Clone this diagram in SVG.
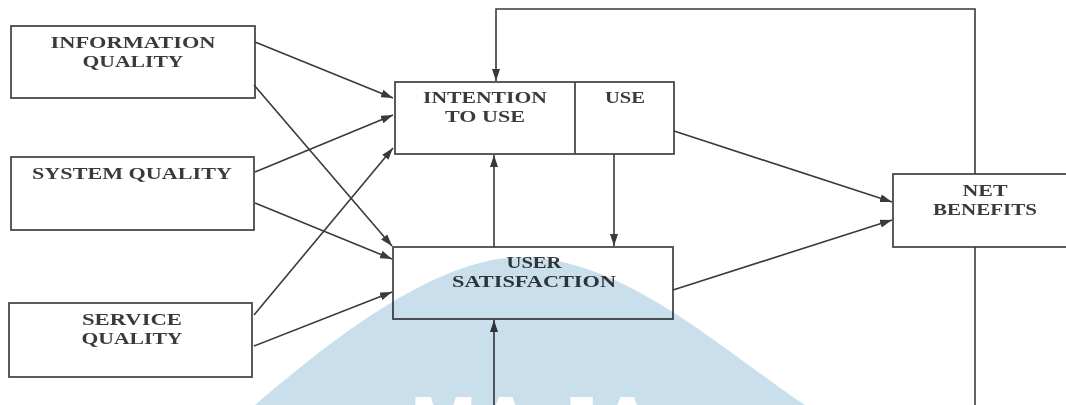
<svg xmlns="http://www.w3.org/2000/svg" width="1066" height="405" viewBox="0 0 1066 405">
  <style>
    .box { fill: none; stroke: #4a4a4a; stroke-width: 1.8; }
    .lbl { font-family: "Liberation Serif", "Times New Roman", serif; font-weight: bold; font-size: 17px; fill: #3a3a3a; text-anchor: middle; }
    .wire { fill: none; stroke: #3a3a3a; stroke-width: 1.6; }
    .arr { marker-end: url(#head); }
    .mark { font-family: "Liberation Sans", Arial, sans-serif; font-weight: bold; font-size: 80px; fill: #000; }
  </style>
  <defs>
    <marker id="head" viewBox="0 0 12 8" refX="12" refY="4" markerWidth="12" markerHeight="8" markerUnits="userSpaceOnUse" orient="auto">
      <path d="M0,0 L12,4 L0,8 Z" fill="#3a3a3a"/>
    </marker>
    <mask id="cut">
      <rect x="0" y="0" width="1066" height="405" fill="#fff"/>
      <text class="mark" x="410" y="452">MA JA</text>
    </mask>
  </defs>

  <rect x="0" y="0" width="1066" height="405" fill="#fff"/>

  <!-- nodes -->
  <g id="information-quality">
    <rect class="box" x="11" y="26" width="244" height="72"/>
    <text class="lbl" x="133" y="48" textLength="165" lengthAdjust="spacingAndGlyphs">INFORMATION</text>
    <text class="lbl" x="133" y="67" textLength="101" lengthAdjust="spacingAndGlyphs">QUALITY</text>
  </g>
  <g id="system-quality">
    <rect class="box" x="11" y="157" width="243" height="73"/>
    <text class="lbl" x="132" y="179" textLength="200" lengthAdjust="spacingAndGlyphs">SYSTEM QUALITY</text>
  </g>
  <g id="service-quality">
    <rect class="box" x="9" y="303" width="243" height="74"/>
    <text class="lbl" x="132" y="325" textLength="100" lengthAdjust="spacingAndGlyphs">SERVICE</text>
    <text class="lbl" x="132" y="344" textLength="101" lengthAdjust="spacingAndGlyphs">QUALITY</text>
  </g>
  <g id="intention-use">
    <rect class="box" x="395" y="82" width="279" height="72"/>
    <line class="box" x1="575" y1="82" x2="575" y2="154"/>
    <text class="lbl" x="485" y="103" textLength="124" lengthAdjust="spacingAndGlyphs">INTENTION</text>
    <text class="lbl" x="485" y="122" textLength="80" lengthAdjust="spacingAndGlyphs">TO USE</text>
    <text class="lbl" x="625" y="103" textLength="40" lengthAdjust="spacingAndGlyphs">USE</text>
  </g>
  <g id="user-satisfaction">
    <rect class="box" x="393" y="247" width="280" height="72"/>
    <text class="lbl" x="534" y="268" textLength="55" lengthAdjust="spacingAndGlyphs">USER</text>
    <text class="lbl" x="534" y="287" textLength="164" lengthAdjust="spacingAndGlyphs">SATISFACTION</text>
  </g>
  <g id="net-benefits">
    <rect class="box" x="893" y="174" width="180" height="73"/>
    <text class="lbl" x="985" y="196" textLength="45" lengthAdjust="spacingAndGlyphs">NET</text>
    <text class="lbl" x="985" y="215" textLength="104" lengthAdjust="spacingAndGlyphs">BENEFITS</text>
  </g>

  <!-- connectors -->
  <g id="connectors">
    <line class="wire arr" x1="255" y1="42" x2="393" y2="98"/>
    <line class="wire arr" x1="254" y1="85" x2="392" y2="246"/>
    <line class="wire arr" x1="255" y1="172" x2="393" y2="115"/>
    <line class="wire arr" x1="255" y1="203" x2="392" y2="259"/>
    <line class="wire arr" x1="254" y1="315" x2="393" y2="148"/>
    <line class="wire arr" x1="254" y1="346" x2="392" y2="292"/>
    <line class="wire arr" x1="494" y1="247" x2="494" y2="155"/>
    <line class="wire arr" x1="614" y1="154" x2="614" y2="246"/>
    <line class="wire arr" x1="494" y1="405" x2="494" y2="320"/>
    <line class="wire arr" x1="674" y1="131" x2="892" y2="202"/>
    <line class="wire arr" x1="673" y1="290" x2="892" y2="220"/>
    <polyline class="wire arr" points="975,174 975,9 496,9 496,81"/>
    <line class="wire" x1="975" y1="247" x2="975" y2="405"/>
  </g>

  <!-- light blue emblem behind the lower middle -->
  <path d="M 255 405 C 320 350, 430 258, 521 257 C 625 258, 722 350, 805 405 Z" fill="#c9dfec" mask="url(#cut)" style="mix-blend-mode:multiply"/>
</svg>
